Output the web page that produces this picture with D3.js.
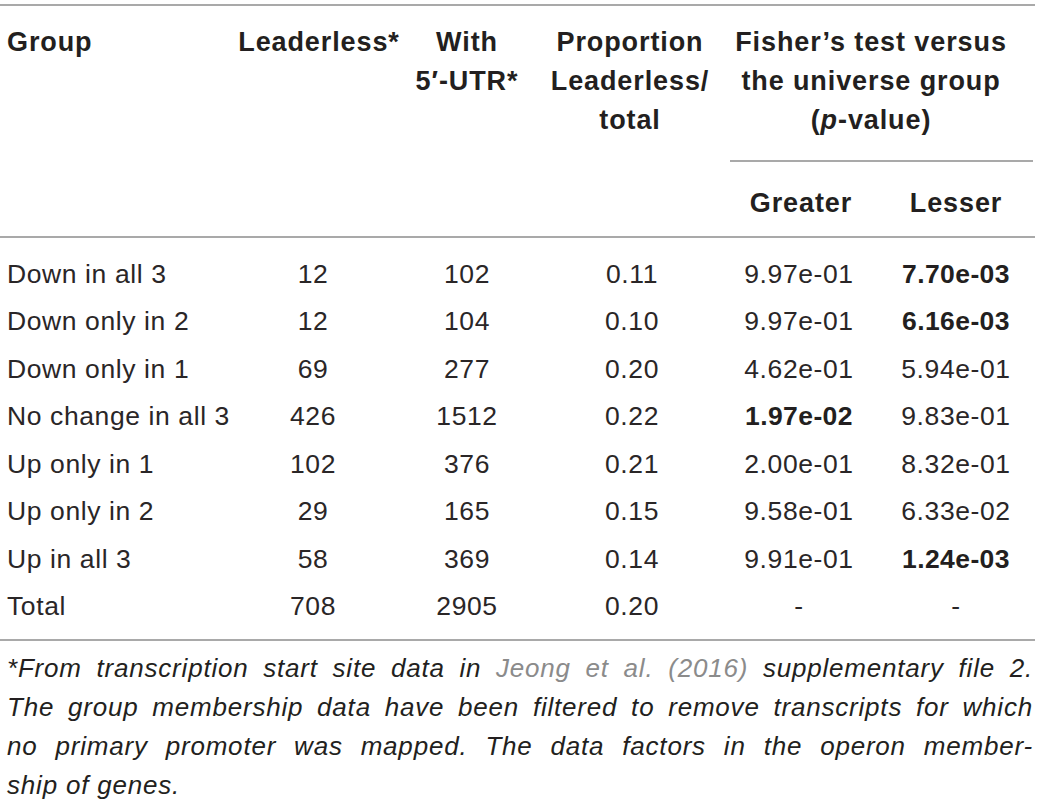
<!DOCTYPE html>
<html>
<head>
	<meta charset="utf-8">
	<title></title>
	<style type="text/css">
		body {
			margin: 0;
			background: #fff;
		}
		svg text {
			font-family: "Liberation Sans", Arial, sans-serif;
			fill: #231f20;
		}
		.head {
			font-weight: bold;
			font-size: 27px;
			letter-spacing: 0.9px;
		}
		.cell {
			font-size: 26.5px;
			letter-spacing: 0.6px;
			fill: #2a2627;
		}
		.strong {
			font-weight: bold;
			letter-spacing: 0.4px;
			fill: #231f20;
		}
		.note {
			font-style: italic;
			font-size: 26px;
			letter-spacing: 0.8px;
		}
		.rule {
			stroke: #8c8c8c;
			stroke-width: 1.6;
		}
	</style>
</head>
<body>
	<svg class="viz" width="1040" height="800"></svg>

	<script src="https://d3js.org/d3.v7.min.js" charset="utf-8"></script>
	<script type="text/javascript">

		// table data
		var groups = ['Down in all 3', 'Down only in 2', 'Down only in 1', 'No change in all 3',
			'Up only in 1', 'Up only in 2', 'Up in all 3', 'Total'];
		var leaderless = [12, 12, 69, 426, 102, 29, 58, 708];
		var withUtr = [102, 104, 277, 1512, 376, 165, 369, 2905];
		var proportion = ['0.11', '0.10', '0.20', '0.22', '0.21', '0.15', '0.14', '0.20'];
		var greater = ['9.97e-01', '9.97e-01', '4.62e-01', '1.97e-02', '2.00e-01', '9.58e-01', '9.91e-01', '-'];
		var lesser = ['7.70e-03', '6.16e-03', '5.94e-01', '9.83e-01', '8.32e-01', '6.33e-02', '1.24e-03', '-'];
		var greaterBold = [false, false, false, true, false, false, false, false];
		var lesserBold = [true, true, false, false, false, false, true, false];

		var footLines = [
			'*From transcription start site data in |Jeong et al. (2016)| supplementary file 2.',
			'The group membership data have been filtered to remove transcripts for which',
			'no primary promoter was mapped. The data factors in the operon member-',
			'ship of genes.'
		];

		var canvas = d3.select('.viz');

		// column centres and row baselines
		var colKeys = ['lead', 'utr', 'prop', 'gt', 'lt'];
		var colX = d3.scaleOrdinal().domain(colKeys).range([313, 467, 632, 799, 956]);
		var rowY = d3.scaleLinear().domain([0, groups.length - 1]).range([283, 615]);
		var headY = d3.scaleLinear().domain([0, 1]).range([51, 90]);
		var noteY = d3.scaleLinear().domain([0, 1]).range([677, 716]);

		// horizontal rules
		var rules = [
			{x1: 0, x2: 1035, y: 5},
			{x1: 730, x2: 1033, y: 161},
			{x1: 0, x2: 1035, y: 237},
			{x1: 0, x2: 1035, y: 640}
		];
		canvas.selectAll('line.rule').data(rules)
			.enter().append('line')
				.attr('class', 'rule')
				.attr('x1', function(d) { return d.x1; })
				.attr('x2', function(d) { return d.x2; })
				.attr('y1', function(d) { return d.y; })
				.attr('y2', function(d) { return d.y; });

		// header
		var headers = [
			{x: 7, lines: ['Group'], anchor: 'start'},
			{x: 319, lines: ['Leaderless*']},
			{x: 467, lines: ['With', '5\u2032-UTR*']},
			{x: 630, lines: ['Proportion', 'Leaderless/', 'total']},
			{x: 871, lines: ['Fisher\u2019s test versus', 'the universe group', '(p-value)']}
		];
		headers.forEach(function(h) {
			h.lines.forEach(function(t, i) {
				var txt = canvas.append('text')
					.attr('class', 'head')
					.attr('x', h.x)
					.attr('y', headY(i))
					.attr('text-anchor', h.anchor || 'middle');
				if (t === '(p-value)') {
					txt.append('tspan').text('(');
					txt.append('tspan').attr('font-style', 'italic').text('p');
					txt.append('tspan').text('-value)');
				} else {
					txt.text(t);
				}
			});
		});
		canvas.selectAll('text.sub').data([['gt', 'Greater'], ['lt', 'Lesser']])
			.enter().append('text')
				.attr('class', 'head sub')
				.attr('text-anchor', 'middle')
				.attr('x', function(d) { return colX(d[0]) + (d[0] === 'gt' ? 2 : 0); })
				.attr('y', 212)
				.text(function(d) { return d[1]; });

		// body rows
		var rows = groups.map(function(g, i) {
			return {i: i, group: g, lead: leaderless[i], utr: withUtr[i], prop: proportion[i],
				gt: greater[i], lt: lesser[i], gtB: greaterBold[i], ltB: lesserBold[i]};
		});
		var row = canvas.selectAll('g.row').data(rows)
			.enter().append('g')
				.attr('class', 'row')
				.attr('transform', function(d) { return 'translate(0,' + rowY(d.i) + ')'; });

		row.append('text')
			.attr('class', 'cell')
			.attr('x', 7)
			.text(function(d) { return d.group; });

		colKeys.forEach(function(k) {
			row.append('text')
				.attr('class', function(d) {
					return 'cell' + ((k === 'gt' && d.gtB) || (k === 'lt' && d.ltB) ? ' strong' : '');
				})
				.attr('x', colX(k))
				.attr('text-anchor', 'middle')
				.text(function(d) { return d[k]; });
		});

		// justified footnote
		footLines.forEach(function(line, li) {
			var words = [];
			line.split('|').forEach(function(part, pi) {
				part.split(' ').forEach(function(w) {
					if (w.length) words.push({w: w, link: pi === 1});
				});
			});
			var els = words.map(function(d) {
				var t = canvas.append('text')
					.attr('class', 'note')
					.attr('y', noteY(li))
					.text(d.w);
				if (d.link) t.style('fill', '#8b8b8b');
				return t;
			});
			var widths = els.map(function(t) { return t.node().getComputedTextLength(); });
			var total = d3.sum(widths);
			var last = li === footLines.length - 1;
			var gap = last ? 8 : (1033 - 7 - total) / (words.length - 1);
			var x = 7;
			els.forEach(function(t, i) {
				t.attr('x', x);
				x += widths[i] + gap;
			});
		});

	</script>
</body>
</html>
